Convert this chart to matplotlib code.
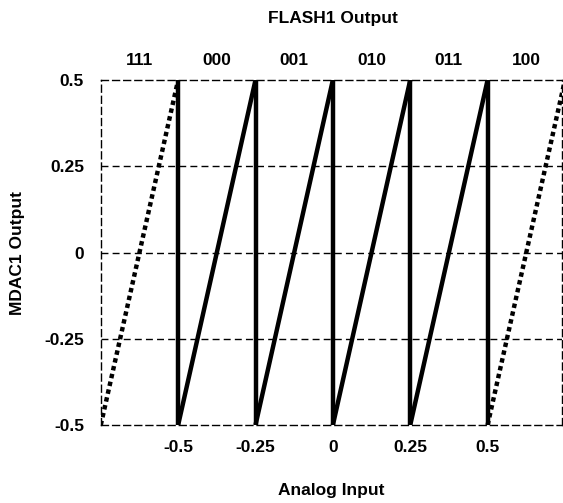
import matplotlib
matplotlib.use("Agg")
import matplotlib.pyplot as plt

# Data
edges = [-0.5, -0.25, 0.0, 0.25, 0.5]
y_low, y_high = -0.5, 0.5
dotted_left_x = [-0.75, -0.5]
dotted_right_x = [0.5, 0.75]
dotted_y = [-0.5, 0.5]
codes = ["111", "000", "001", "010", "011", "100"]
code_x = [-0.625, -0.375, -0.125, 0.125, 0.375, 0.625]
xticks = [-0.5, -0.25, 0, 0.25, 0.5]
xtick_labels = ["-0.5", "-0.25", "0", "0.25", "0.5"]
yticks = [0.5, 0.25, 0, -0.25, -0.5]
ytick_labels = ["0.5", "0.25", "0", "-0.25", "-0.5"]

FS = 12.5
plt.rcParams['font.family'] = ['Liberation Sans', 'DejaVu Sans']
fig = plt.figure(figsize=(5.63, 5.03), dpi=100)
ax = fig.add_axes([0.179, 0.155, 0.819, 0.686])

# solid sawtooth
for x in edges:
    ax.plot([x, x], [y_low, y_high], color='black', lw=3.2, solid_capstyle='butt')
for a, b in zip(edges[:-1], edges[1:]):
    ax.plot([a, b], [y_low, y_high], color='black', lw=3.2, solid_capstyle='butt')

# dotted extensions
for xs in (dotted_left_x, dotted_right_x):
    ax.plot(xs, dotted_y, color='black', lw=3.2, linestyle=(0, (1, 0.8)))

# horizontal dashed grid
for y in [0.25, 0, -0.25]:
    ax.axhline(y, color='black', lw=1.0, linestyle=(0, (5, 3)))

ax.set_xlim(-0.75, 0.74)
ax.set_ylim(-0.5, 0.5)
for s in ax.spines.values():
    s.set_linestyle((0, (5, 3)))
    s.set_linewidth(1.0)

ax.set_xticks(xticks)
ax.set_xticklabels(xtick_labels, fontsize=FS, fontweight='bold')
ax.set_yticks(yticks)
ax.set_yticklabels(ytick_labels, fontsize=FS, fontweight='bold')
ax.tick_params(length=0, pad=11)
ax.tick_params(axis='y', pad=12)

ax.set_xlabel("Analog Input", fontsize=FS, fontweight='bold', labelpad=20)
ax.set_ylabel("MDAC1 Output", fontsize=FS, fontweight='bold', labelpad=14)

for cx, c in zip(code_x, codes):
    ax.text(cx, 1.035, c, transform=ax.get_xaxis_transform(), ha='center', va='bottom',
            fontsize=FS, fontweight='bold')
ax.text(0.0, 1.155, "FLASH1 Output", transform=ax.get_xaxis_transform(), ha='center',
        va='bottom', fontsize=FS, fontweight='bold')

fig.savefig("out.png", dpi=100)
